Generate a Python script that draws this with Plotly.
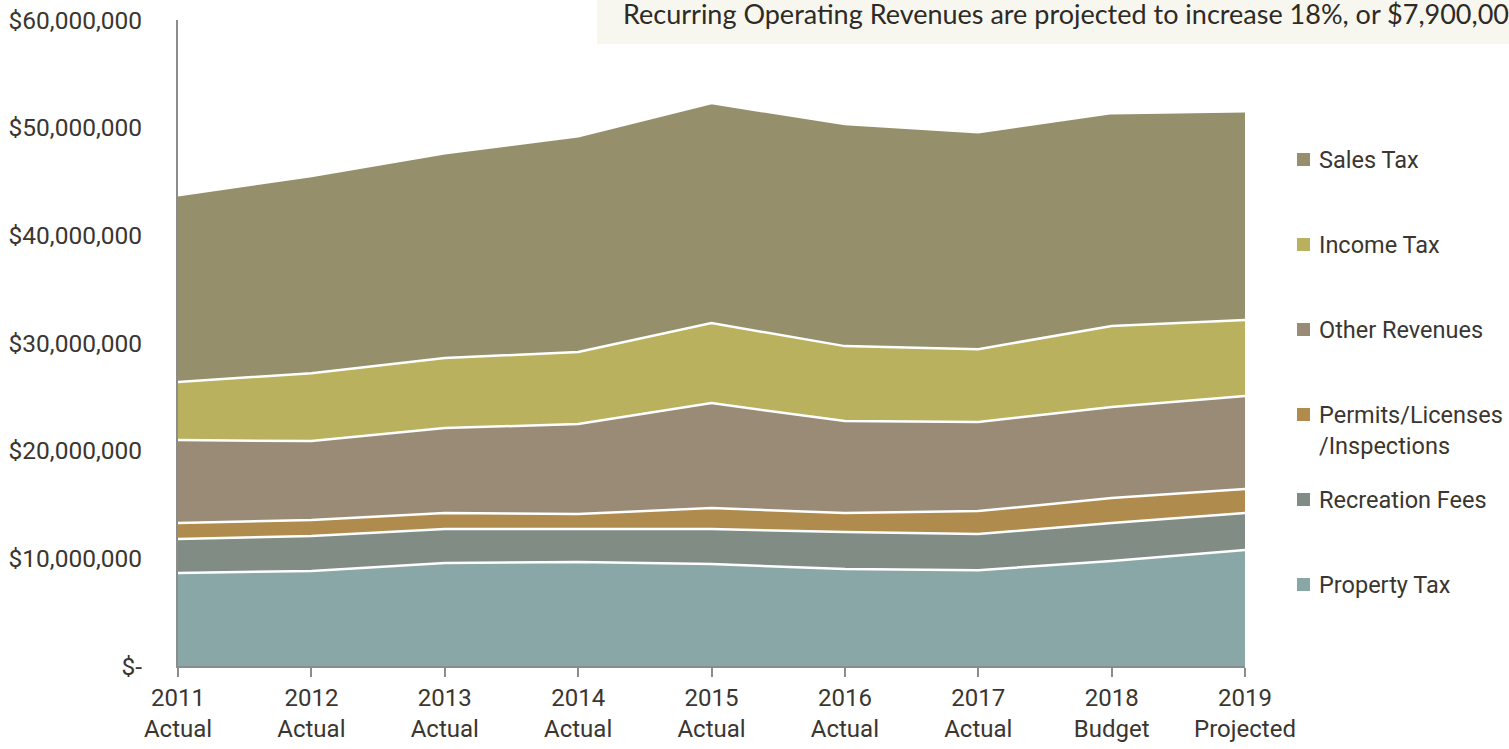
import plotly.graph_objects as go

categories = ["2011<br>Actual", "2012<br>Actual", "2013<br>Actual", "2014<br>Actual",
              "2015<br>Actual", "2016<br>Actual", "2017<br>Actual", "2018<br>Budget",
              "2019<br>Projected"]

property_tax = [8.64e6, 8.82e6, 9.56e6, 9.66e6, 9.47e6, 9.00e6, 8.90e6, 9.75e6, 10.77e6]
recreation_fees = [3.16e6, 3.25e6, 3.16e6, 3.06e6, 3.25e6, 3.44e6, 3.36e6, 3.53e6, 3.43e6]
permits = [1.48e6, 1.49e6, 1.48e6, 1.39e6, 1.95e6, 1.76e6, 2.13e6, 2.32e6, 2.23e6]
other_revenues = [7.70e6, 7.33e6, 7.90e6, 8.36e6, 9.75e6, 8.55e6, 8.27e6, 8.45e6, 8.64e6]
income_tax = [5.39e6, 6.31e6, 6.50e6, 6.69e6, 7.43e6, 6.96e6, 6.77e6, 7.52e6, 7.06e6]
sales_tax = [17.36e6, 18.30e6, 19.03e6, 20.04e6, 20.43e6, 20.62e6, 20.15e6, 19.78e6, 19.40e6]

series = [
    ("Property Tax", property_tax, "#8AA7A7"),
    ("Recreation Fees", recreation_fees, "#818C85"),
    ("Permits/Licenses<br>/Inspections", permits, "#AF8B4D"),
    ("Other Revenues", other_revenues, "#9A8B77"),
    ("Income Tax", income_tax, "#B9B15D"),
    ("Sales Tax", sales_tax, "#958F6B"),
]

y_tick_vals = [0, 10e6, 20e6, 30e6, 40e6, 50e6, 60e6]
y_tick_text = ["$-", "$10,000,000", "$20,000,000", "$30,000,000",
               "$40,000,000", "$50,000,000", "$60,000,000"]

note_text = "Recurring Operating Revenues are projected to increase 18%, or $7,900,000"

FONT = "Roboto"
TEXT_COLOR = "#3B3630"

fig = go.Figure()
for name, vals, color in series:
    fig.add_trace(go.Scatter(
        x=list(range(len(categories))), y=vals, name=name.replace("<br>", ""),
        stackgroup="one", mode="lines",
        line=dict(color="white", width=2.5),
        fillcolor=color, showlegend=False, hoverinfo="skip",
    ))

L, R, T, B = 178, 264, 20, 83
W, H = 1509, 749
pw, ph = W - L - R, H - T - B

def px(x):
    return (x - L) / pw

def py(y):
    return (H - B - y) / ph

shapes = [
    dict(type="rect", xref="paper", yref="paper", x0=px(597), x1=px(1515),
         y0=py(44), y1=py(-5), fillcolor="#F7F7F0", line=dict(width=0), layer="below"),
]

annotations = [
    dict(xref="paper", yref="paper", x=px(621), y=py(13), text=note_text,
         showarrow=False, xanchor="left", yanchor="middle",
         font=dict(family="Lato", size=27, color="#2E2A25")),
]

# manual legend (top-to-bottom order as in reference)
legend_items = list(reversed(series))
legend_y = [159, 244, 329, 414, 499, 584]
for (name, vals, color), ly in zip(legend_items, legend_y):
    shapes.append(dict(type="rect", xref="paper", yref="paper",
                       x0=px(1297), x1=px(1310), y0=py(ly + 7), y1=py(ly - 6),
                       fillcolor=color, line=dict(width=0)))
    annotations.append(dict(xref="paper", yref="paper", x=px(1317), y=py(ly - 15),
                            text=name, showarrow=False, xanchor="left", yanchor="top",
                            align="left",
                            font=dict(family=FONT, size=23.5, color=TEXT_COLOR)))

fig.update_layout(
    width=W, height=H,
    margin=dict(l=L, r=R, t=T, b=B),
    paper_bgcolor="white", plot_bgcolor="white",
    shapes=shapes, annotations=annotations,
    showlegend=False,
    font=dict(family=FONT, size=24, color=TEXT_COLOR),
    xaxis=dict(
        range=[0, len(categories) - 1], automargin=False,
        tickmode="array", tickvals=list(range(len(categories))), ticktext=categories,
        showgrid=False, zeroline=False,
        showline=True, linecolor="#8C8C8C", linewidth=2,
        ticks="outside", ticklen=9, tickwidth=2, tickcolor="#8C8C8C",
        tickfont=dict(family=FONT, size=24, color=TEXT_COLOR),
    ),
    yaxis=dict(
        range=[0, 60e6], automargin=False,
        tickmode="array", tickvals=y_tick_vals, ticktext=y_tick_text,
        showgrid=False, zeroline=False,
        showline=True, linecolor="#8C8C8C", linewidth=2,
        ticks="", ticklabelstandoff=29,
        tickfont=dict(family=FONT, size=24.5, color=TEXT_COLOR),
    ),
)

fig.write_html(
    "out.html",
    config={"displayModeBar": False},
    post_script="document.body.style.margin='0';document.body.style.overflow='hidden';",
)
